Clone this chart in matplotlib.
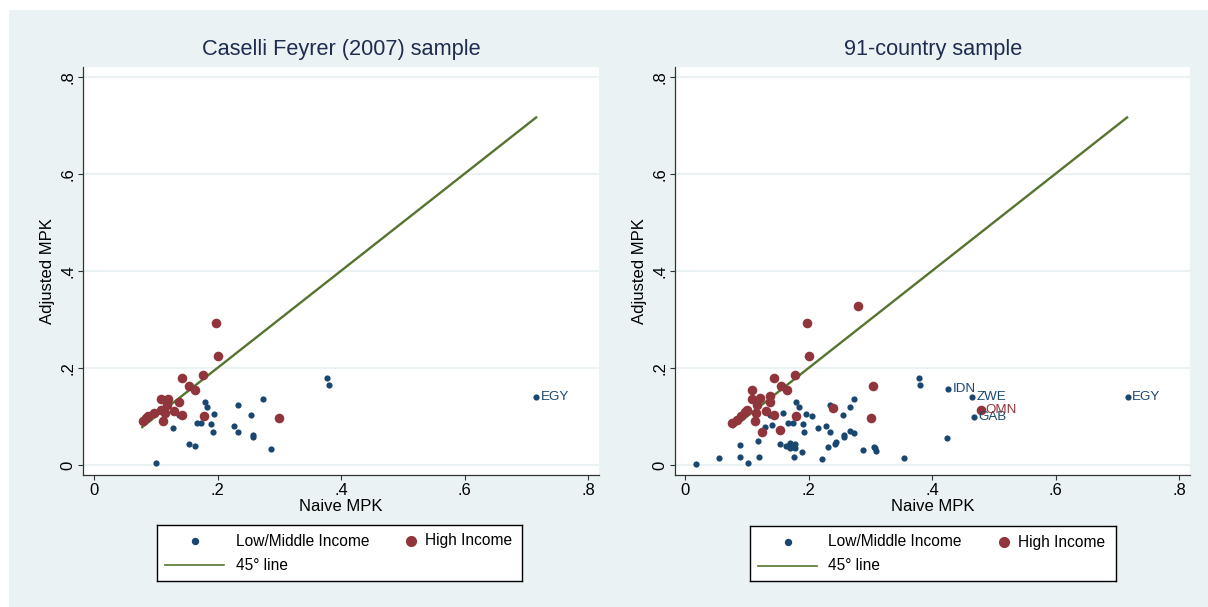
import matplotlib
matplotlib.use("Agg")
import matplotlib.pyplot as plt
from matplotlib.patches import Rectangle

plt.rcParams['font.family'] = ['Liberation Sans', 'DejaVu Sans']

# ---------------- data ----------------
left_low_x = [0.101, 0.128, 0.137, 0.154, 0.164, 0.166, 0.173, 0.179, 0.183, 0.195, 0.190,
              0.192, 0.227, 0.233, 0.233, 0.255, 0.2575, 0.2575, 0.273, 0.287, 0.378, 0.380]
left_low_y = [0.004, 0.077, 0.103, 0.044, 0.039, 0.086, 0.086, 0.130, 0.119, 0.106, 0.084,
              0.067, 0.080, 0.067, 0.124, 0.102, 0.062, 0.0585, 0.136, 0.032, 0.180, 0.165]
left_high_x = [0.1976, 0.200, 0.142, 0.177, 0.154, 0.164, 0.108, 0.120, 0.138, 0.118, 0.1085,
               0.1296, 0.097, 0.115, 0.142, 0.088, 0.085, 0.079, 0.112, 0.178, 0.300]
left_high_y = [0.293, 0.2255, 0.179, 0.185, 0.162, 0.154, 0.137, 0.137, 0.130, 0.124, 0.114,
               0.112, 0.108, 0.107, 0.103, 0.100, 0.097, 0.090, 0.090, 0.101, 0.096]
left_lab_names = ["EGY"]
left_lab_x = [0.716]
left_lab_y = [0.140]
left_lab_group = ["low"]

right_low_x = [0.018, 0.055, 0.089, 0.1016, 0.119, 0.088, 0.118, 0.129, 0.141, 0.137, 0.158,
               0.154, 0.164, 0.169, 0.174, 0.177, 0.170, 0.178, 0.176, 0.189, 0.167, 0.174,
               0.180, 0.184, 0.196, 0.205, 0.191, 0.193, 0.215, 0.2275, 0.234, 0.234, 0.2216,
               0.231, 0.243, 0.244, 0.256, 0.258, 0.258, 0.267, 0.274, 0.267, 0.273, 0.288,
               0.306, 0.307, 0.309, 0.354, 0.379, 0.381, 0.424]
right_low_y = [0.0014, 0.015, 0.0166, 0.004, 0.0166, 0.041, 0.049, 0.078, 0.083, 0.103, 0.1076,
               0.044, 0.039, 0.045, 0.038, 0.043, 0.035, 0.035, 0.016, 0.026, 0.086, 0.086,
               0.130, 0.119, 0.106, 0.100, 0.084, 0.067, 0.0766, 0.080, 0.067, 0.124, 0.013,
               0.037, 0.0434, 0.047, 0.102, 0.062, 0.0586, 0.1186, 0.136, 0.070, 0.0655, 0.0317,
               0.038, 0.034, 0.029, 0.015, 0.180, 0.165, 0.056]
right_high_x = [0.280, 0.198, 0.201, 0.143, 0.178, 0.305, 0.155, 0.165, 0.1086, 0.1086, 0.121,
                0.137, 0.138, 0.117, 0.1005, 0.130, 0.1146, 0.240, 0.143, 0.179, 0.301, 0.090,
                0.096, 0.083, 0.075, 0.113, 0.124, 0.153]
right_high_y = [0.3275, 0.293, 0.2255, 0.179, 0.185, 0.162, 0.162, 0.154, 0.154, 0.137, 0.138,
                0.142, 0.130, 0.124, 0.114, 0.112, 0.107, 0.118, 0.103, 0.101, 0.097, 0.100,
                0.109, 0.093, 0.086, 0.090, 0.068, 0.072]
right_lab_names = ["IDN", "ZWE", "GAB", "EGY", "OMN"]
right_lab_x = [0.426, 0.465, 0.468, 0.717, 0.479]
right_lab_y = [0.157, 0.140, 0.098, 0.140, 0.113]
right_lab_group = ["low", "low", "low", "low", "high"]

line_x = [0.078, 0.716]
line_y = [0.078, 0.716]

titles = ["Caselli Feyrer (2007) sample", "91-country sample"]
xlabel = "Naive MPK"
ylabel = "Adjusted MPK"
ticks = [0, 0.2, 0.4, 0.6, 0.8]
tick_labels = ["0", ".2", ".4", ".6", ".8"]
legend_labels = ["Low/Middle Income", "High Income", "45\u00b0 line"]

# ---------------- style ----------------
BG = "#eaf2f3"
NAVY = "#1a476f"
MAROON = "#90353b"
GREEN = "#55752f"
TITLE_C = "#1e2d4f"
W, H = 1208, 607

fig = plt.figure(figsize=(W / 100, H / 100), dpi=100, facecolor="white")
fig.patches.append(Rectangle((9 / W, 0), 1 - 9 / W, 1 - 10 / H, transform=fig.transFigure,
                             facecolor=BG, edgecolor="none", zorder=-10))


def fx(px):
    return px / W


def fy(py):
    return 1 - py / H


panels = [
    dict(ax_px=(83, 67, 599, 475), x0=94.0, xu=617.5,
         low=(left_low_x, left_low_y), high=(left_high_x, left_high_y),
         labs=(left_lab_names, left_lab_x, left_lab_y, left_lab_group),
         leg_px=(157, 525, 522, 580.5)),
    dict(ax_px=(675.3, 67, 1190, 475), x0=685.3, xu=617.0,
         low=(right_low_x, right_low_y), high=(right_high_x, right_high_y),
         labs=(right_lab_names, right_lab_x, right_lab_y, right_lab_group),
         leg_px=(749.5, 526, 1115.7, 580.5)),
]

y0, yu = 465.0, 485.4
FS = 11.2
FS_AX = 12
LOW_S = 20
HIGH_S = 48

for i, p in enumerate(panels):
    l, t, r, b = p["ax_px"]
    ax = fig.add_axes([fx(l), fy(b), fx(r - l), (b - t) / H])
    ax.set_facecolor("white")
    ax.set_xlim((l - p["x0"]) / p["xu"], (r - p["x0"]) / p["xu"])
    ax.set_ylim((y0 - b) / yu, (y0 - t) / yu)
    for s in ["top", "right"]:
        ax.spines[s].set_visible(False)
    for s in ["left", "bottom"]:
        ax.spines[s].set_color("#333333")
        ax.spines[s].set_linewidth(0.9)
    ax.set_xticks(ticks)
    ax.set_xticklabels(tick_labels)
    ax.set_yticks(ticks)
    ax.set_yticklabels(tick_labels, rotation=90, va="center")
    ax.tick_params(axis="both", direction="out", length=3.6, width=0.8, color="#333333",
                   labelsize=FS_AX, labelcolor="black", pad=2.0)
    ax.grid(axis="y", color=BG, linewidth=1.4, zorder=0)
    ax.set_axisbelow(True)
    ax.set_xlabel(xlabel, fontsize=FS_AX, labelpad=1)
    ax.set_ylabel(ylabel, fontsize=FS_AX, labelpad=4)

    ax.plot(line_x, line_y, color=GREEN, linewidth=1.7, zorder=3)
    lx, ly = p["low"]
    hx, hy = p["high"]
    ax.scatter(lx, ly, s=LOW_S, color=NAVY, linewidths=0, zorder=4)
    ax.scatter(hx, hy, s=HIGH_S, color=MAROON, linewidths=0, zorder=5)
    names, nx, ny, ng = p["labs"]
    for n, xv, yv, g in zip(names, nx, ny, ng):
        c = NAVY if g == "low" else MAROON
        ax.scatter([xv], [yv], s=LOW_S if g == "low" else HIGH_S, color=c, linewidths=0,
                   zorder=6)
        ax.annotate(n, (xv, yv), xytext=(3.2, 0), textcoords="offset points",
                    va="center", ha="left", fontsize=9.6, color=c, zorder=7)

    ax.text(0.5, 1 + 17 / (b - t), titles[i], transform=ax.transAxes, ha="center",
            va="center", fontsize=15.7, color=TITLE_C)

    # legend box
    ll, lt, lr, lb = p["leg_px"]
    lax = fig.add_axes([fx(ll), fy(lb), fx(lr - ll), (lb - lt) / H])
    lax.set_facecolor("white")
    lax.set_xlim(0, lr - ll)
    lax.set_ylim(lb - lt, 0)
    lax.set_xticks([])
    lax.set_yticks([])
    for s in lax.spines.values():
        s.set_color("black")
        s.set_linewidth(1.0)
    lax.plot([38], [16], marker="o", markersize=4.3, color=NAVY, linestyle="none")
    lax.text(79, 16, legend_labels[0], va="center", ha="left", fontsize=FS)
    lax.plot([254], [16], marker="o", markersize=7.0, color=MAROON, linestyle="none")
    lax.text(268, 16, legend_labels[1], va="center", ha="left", fontsize=FS)
    lax.plot([8, 67], [40, 40], color=GREEN, linewidth=1.2)
    lax.text(79, 40, legend_labels[2], va="center", ha="left", fontsize=FS)

fig.savefig("out.png", dpi=100, facecolor=fig.get_facecolor())
